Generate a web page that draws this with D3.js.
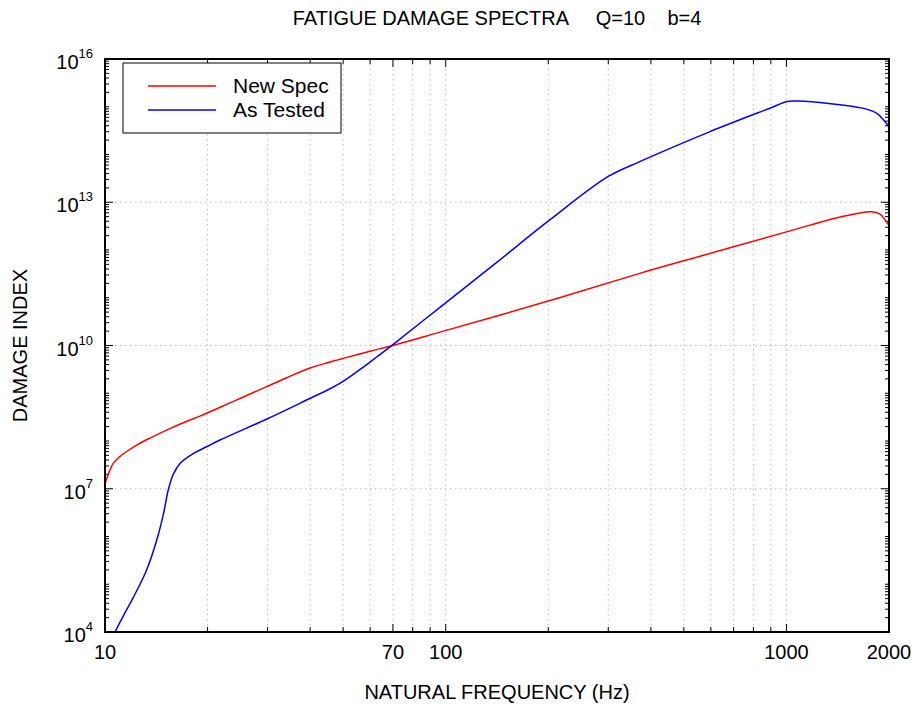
<!DOCTYPE html>
<html>
<head>
<meta charset="utf-8">
<script src="https://cdn.jsdelivr.net/npm/d3@7"></script>
<style>
  body { margin: 0; background: #fff; }
  text { font-family: "Liberation Sans", Arial, sans-serif; fill: #000; }
  .grid line { stroke: #bdbdbd; stroke-width: 1; stroke-dasharray: 1.5,3.5; }
</style>
</head>
<body>
<svg id="chart" width="920" height="713"></svg>
<script>
// ========= data (frequency in Hz, damage index as log10) =========
const newSpecFreq = [10, 10.3, 10.57, 11, 11.58, 12.5, 13.55, 15.5, 17.76, 19, 24, 29.85, 34, 40, 45, 50, 60, 70, 96.2, 200, 371, 558, 1000, 1200, 1400, 1600, 1780, 1883, 1949, 2000];
const newSpecLog  = [7.1, 7.36, 7.53, 7.66, 7.78, 7.93, 8.06, 8.26, 8.44, 8.52, 8.84, 9.14, 9.32, 9.53, 9.64, 9.73, 9.88, 10.0, 10.28, 10.93, 11.51, 11.87, 12.38, 12.54, 12.67, 12.76, 12.80, 12.75, 12.63, 12.51];

const asTestedFreq = [10.5, 10.7, 11.4, 12.1, 13.25, 14.18, 14.84, 15.34, 15.86, 16.6, 18.2, 19.87, 21.75, 29.85, 39.9, 45.9, 50, 56.1, 63, 70, 96.2, 140, 202, 300, 371, 597, 894, 1005, 1072, 1434, 1717, 1844, 1929, 2000];
const asTestedLog  = [3.88, 4.0, 4.38, 4.72, 5.30, 5.92, 6.47, 6.98, 7.30, 7.53, 7.74, 7.88, 8.02, 8.46, 8.89, 9.10, 9.25, 9.50, 9.77, 10.02, 10.80, 11.72, 12.63, 13.54, 13.85, 14.48, 14.97, 15.11, 15.12, 15.04, 14.95, 14.86, 14.72, 14.58];

const xTickValues = [10, 70, 100, 1000, 2000];
const xGridValues = [20, 30, 40, 50, 60, 70, 80, 90, 100, 200, 300, 400, 500, 600, 700, 800, 900, 1000];
const yTickExps = [4, 7, 10, 13, 16];

const seriesNames = ["New Spec", "As Tested"];
const seriesColors = ["#ff0000", "#0000ff"];

// ========= svg =========
const svg = d3.select("#chart");
const margin = { top: 59, right: 31, bottom: 81, left: 105 };
const width = +svg.attr("width");
const height = +svg.attr("height");
const innerW = width - margin.left - margin.right;
const innerH = height - margin.top - margin.bottom;

const g = svg.append("g")
    .attr("transform", `translate(${margin.left},${margin.top})`);

const x = d3.scaleLog().domain([10, 2000]).range([0, innerW]);
const y = d3.scaleLog().domain([1e4, 1e16]).range([innerH, 0]);

// ========= grid =========
const grid = g.append("g").attr("class", "grid");
grid.selectAll(".vg")
    .data(xGridValues)
    .join("line")
    .attr("x1", d => x(d)).attr("x2", d => x(d))
    .attr("y1", 0).attr("y2", innerH);
grid.selectAll(".hg")
    .data(yTickExps.slice(1, -1))
    .join("line")
    .attr("class", "hg")
    .attr("x1", 0).attr("x2", innerW)
    .attr("y1", d => y(Math.pow(10, d))).attr("y2", d => y(Math.pow(10, d)));

// ========= ticks (inside, on all four sides) =========
const yMinor = [];
for (let e = 4; e < 16; e++) {
    for (let k = 1; k <= 9; k++) yMinor.push(k * Math.pow(10, e));
}
yMinor.push(1e16);
const isMajorY = v => yTickExps.some(e => Math.abs(Math.log10(v) - e) < 1e-9);

const ticks = g.append("g").attr("stroke", "#000").attr("stroke-width", 1);
[0, innerW].forEach((x0, side) => {
    ticks.selectAll(null)
        .data(yMinor)
        .join("line")
        .attr("x1", x0)
        .attr("x2", d => x0 + (side === 0 ? 1 : -1) * (isMajorY(d) ? 8 : 4))
        .attr("y1", d => y(d)).attr("y2", d => y(d));
});
const xAllTicks = xGridValues.concat([2000]);
[innerH, 0].forEach((y0, side) => {
    ticks.selectAll(null)
        .data(xAllTicks)
        .join("line")
        .attr("y1", y0)
        .attr("y2", d => y0 + (side === 0 ? -1 : 1) * (xTickValues.includes(d) ? 8 : 5))
        .attr("x1", d => x(d)).attr("x2", d => x(d));
});

// ========= lines =========
svg.append("defs").append("clipPath").attr("id", "plot-clip")
    .append("rect").attr("width", innerW).attr("height", innerH);

const line = d3.line()
    .x(d => x(d[0]))
    .y(d => y(Math.pow(10, d[1])))
    .curve(d3.curveCatmullRom.alpha(0.5));

const series = [
    d3.zip(newSpecFreq, newSpecLog),
    d3.zip(asTestedFreq, asTestedLog)
];

g.append("g").attr("clip-path", "url(#plot-clip)")
    .selectAll("path")
    .data(series)
    .join("path")
    .attr("fill", "none")
    .attr("stroke", (d, i) => seriesColors[i])
    .attr("stroke-width", 1.5)
    .attr("d", line);

// ========= frame =========
g.append("rect")
    .attr("width", innerW).attr("height", innerH)
    .attr("fill", "none").attr("stroke", "#000").attr("stroke-width", 2);

// ========= tick labels =========
g.selectAll(".xlab")
    .data(xTickValues)
    .join("text")
    .attr("x", d => x(d))
    .attr("y", innerH + 27)
    .attr("text-anchor", "middle")
    .style("font-size", "20px")
    .text(d => d);

const ylab = g.selectAll(".ylab")
    .data(yTickExps)
    .join("text")
    .attr("x", -12)
    .attr("y", d => y(Math.pow(10, d)) + 10)
    .attr("text-anchor", "end")
    .style("font-size", "20px");
ylab.append("tspan").text("10");
ylab.append("tspan")
    .attr("dy", -11)
    .style("font-size", "13px")
    .text(d => d);

// ========= titles =========
svg.append("text")
    .attr("x", margin.left + innerW / 2)
    .attr("y", 25)
    .attr("text-anchor", "middle")
    .attr("xml:space", "preserve")
    .style("font-size", "20px")
    .style("white-space", "pre")
    .text("FATIGUE DAMAGE SPECTRA     Q=10    b=4");

svg.append("text")
    .attr("x", margin.left + innerW / 2)
    .attr("y", 699)
    .attr("text-anchor", "middle")
    .style("font-size", "20px")
    .text("NATURAL FREQUENCY (Hz)");

svg.append("text")
    .attr("transform", `translate(27,${margin.top + innerH / 2}) rotate(-90)`)
    .attr("text-anchor", "middle")
    .style("font-size", "20px")
    .text("DAMAGE INDEX");

// ========= legend =========
const legend = svg.append("g").attr("transform", "translate(123,63)");
legend.append("rect")
    .attr("width", 218).attr("height", 70)
    .attr("fill", "#fff").attr("stroke", "#000").attr("stroke-width", 1);
seriesNames.forEach((name, i) => {
    const ly = 23 + i * 24;
    legend.append("line")
        .attr("x1", 25).attr("x2", 93)
        .attr("y1", ly).attr("y2", ly)
        .attr("stroke", seriesColors[i]).attr("stroke-width", 1.5);
    legend.append("text")
        .attr("x", 110).attr("y", ly + 7)
        .style("font-size", "21px")
        .text(name);
});
</script>
</body>
</html>
